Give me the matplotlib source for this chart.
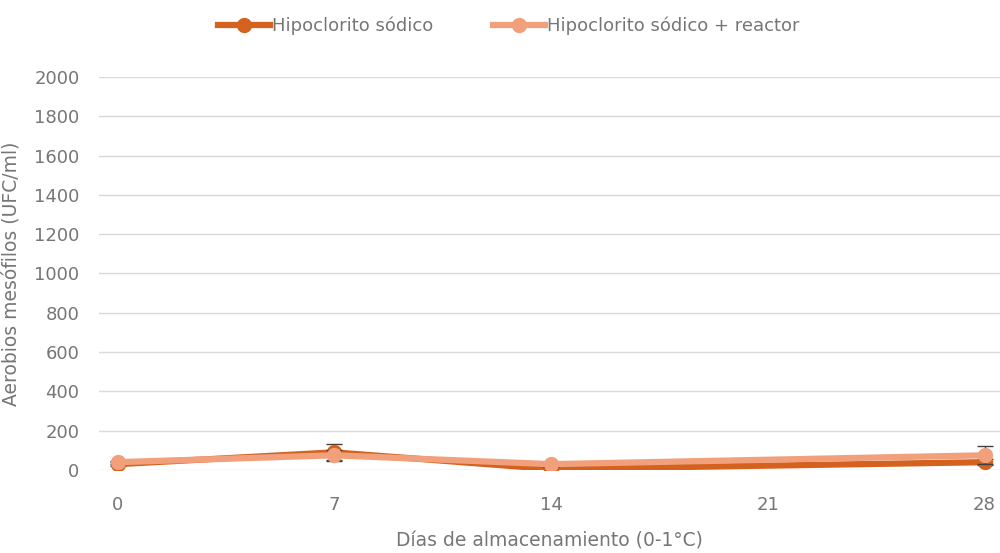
import matplotlib.pyplot as plt
from matplotlib.lines import Line2D

dias = [0, 7, 14, 28]
hipoclorito = [30, 90, 5, 40]
hipoclorito_err = [10, 42, 10, 15]
reactor = [40, 75, 30, 75]
reactor_err = [8, 25, 12, 45]
ticks_x = [0, 7, 14, 21, 28]
ticks_y = list(range(0, 2001, 200))

plt.rcParams["font.family"] = ["DejaVu Sans"]

c_dark = "#D4621E"
c_light = "#F2A07C"
gris = "#767676"

fig = plt.figure(figsize=(10, 5.53), dpi=100)
ax = fig.add_axes([0.099, 0.150, 0.901, 0.711])

ax.errorbar(dias, hipoclorito, yerr=hipoclorito_err, color=c_dark, lw=4.5,
            marker="o", ms=10, ecolor="#404040", elinewidth=1, capsize=6,
            zorder=3)
ax.errorbar(dias, reactor, yerr=reactor_err, color=c_light, lw=4.5,
            marker="o", ms=10, ecolor="#404040", elinewidth=1, capsize=6,
            zorder=4)

ax.set_xlim(-0.6, 28.5)
ax.set_ylim(0, 2000)
ax.set_xticks(ticks_x)
ax.set_yticks(ticks_y)
ax.grid(axis="y", color="#D9D9D9", lw=1)
ax.set_axisbelow(True)
for s in ax.spines.values():
    s.set_visible(False)
ax.tick_params(length=0, labelsize=13, colors=gris)
ax.tick_params(axis="y", pad=14)
ax.tick_params(axis="x", pad=19)

ax.set_xlabel("Días de almacenamiento (0-1°C)", fontsize=13.5, color=gris, labelpad=12)
ax.set_ylabel("Aerobios mesófilos (UFC/ml)", fontsize=13.5, color=gris)
# label centred in the left margin, clear of the tick labels
ax.yaxis.set_label_coords(-0.0875, 0.5)

handles = [
    Line2D([], [], color=c_dark, lw=4.5, marker="o", ms=10),
    Line2D([], [], color=c_light, lw=4.5, marker="o", ms=10),
]
labels = ["Hipoclorito sódico", "Hipoclorito sódico + reactor"]
ax.legend(handles, labels, loc="center", bbox_to_anchor=(0.455, 1.13), ncol=2,
          frameon=False, fontsize=13, labelcolor=gris, handlelength=2.9,
          handletextpad=0.1, columnspacing=3.3)

fig.savefig("out.png", dpi=100)
